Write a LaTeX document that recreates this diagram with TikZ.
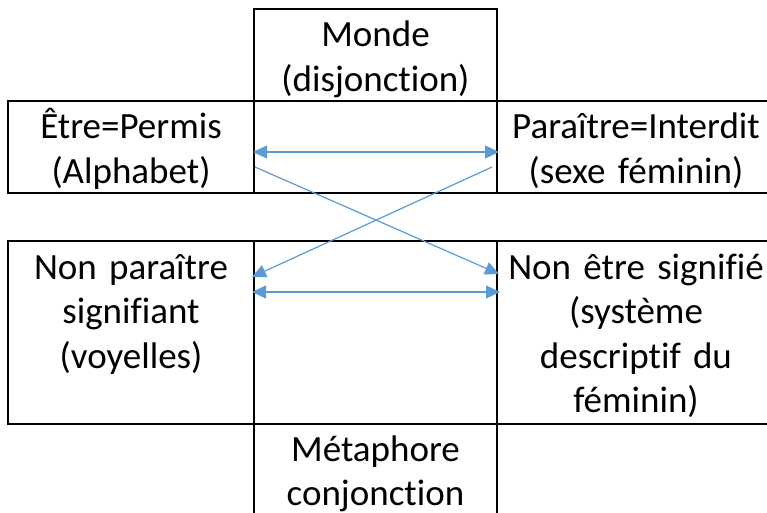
\documentclass[tikz,border=0pt]{standalone}
\usepackage{fontspec}
\setmainfont[Ligatures=NoCommon]{Carlito}
\usepackage{tikz}
\usetikzlibrary{arrows.meta}
\definecolor{linkblue}{HTML}{5B9BD5}

\begin{document}
\begin{tikzpicture}[x=1pt, y=-1pt,
	box/.style={anchor=base, inner sep=0pt, align=center, text width=#1,
		font=\fontsize{37}{44.5}\selectfont},
	box/.default=236pt,
	rule/.style={line width=2pt, line cap=rect},
	link/.style={draw=linkblue, line width=1.2pt},
	>={Triangle[length=14pt,width=13pt]}]
	\useasboundingbox (0,0) rectangle (767,513);
	\draw [rule] (254,193) -- (254,9) -- (497,9) -- (497,193);
	\draw [rule] (767,101) -- (8,101) -- (8,193) -- (767,193);
	\draw [rule] (767,241) -- (8,241) -- (8,424) -- (767,424);
	\draw [rule] (254,241) -- (254,513);
	\draw [rule] (497,241) -- (497,513);
	\node [box] (monde) at (375.5,47) {Monde\\(disjonction)};
	\node [box] (etre) at (131,139) {Être=Permis\\(Alphabet)};
	\node [box=270pt] (paraitre) at (636,139) {Paraître=Interdit\\(sexe féminin)};
	\node [box] (nonparaitre) at (131,279) {Non paraître\\signifiant\\(voyelles)};
	\node [box=270pt] (nonetre) at (636,279) {Non être signifié\\(système\\descriptif du\\féminin)};
	\node [box] (metaphore) at (375.5,461) {Métaphore\\conjonction};
	\coordinate (etreR) at (253,152);
	\coordinate (paraitreL) at (499,152);
	\coordinate (etreX) at (255,167);
	\coordinate (paraitreX) at (492,167);
	\coordinate (nonetreX) at (499,274);
	\coordinate (nonparaitreX) at (252,277);
	\coordinate (nonparaitreR) at (252,292);
	\coordinate (nonetreL) at (500,292);
	\draw [link, <->] (etreR) -- (paraitreL);
	\draw [link, ->] (etreX) -- (nonetreX);
	\draw [link, ->] (paraitreX) -- (nonparaitreX);
	\draw [link, <->] (nonparaitreR) -- (nonetreL);
\end{tikzpicture}
\end{document}
